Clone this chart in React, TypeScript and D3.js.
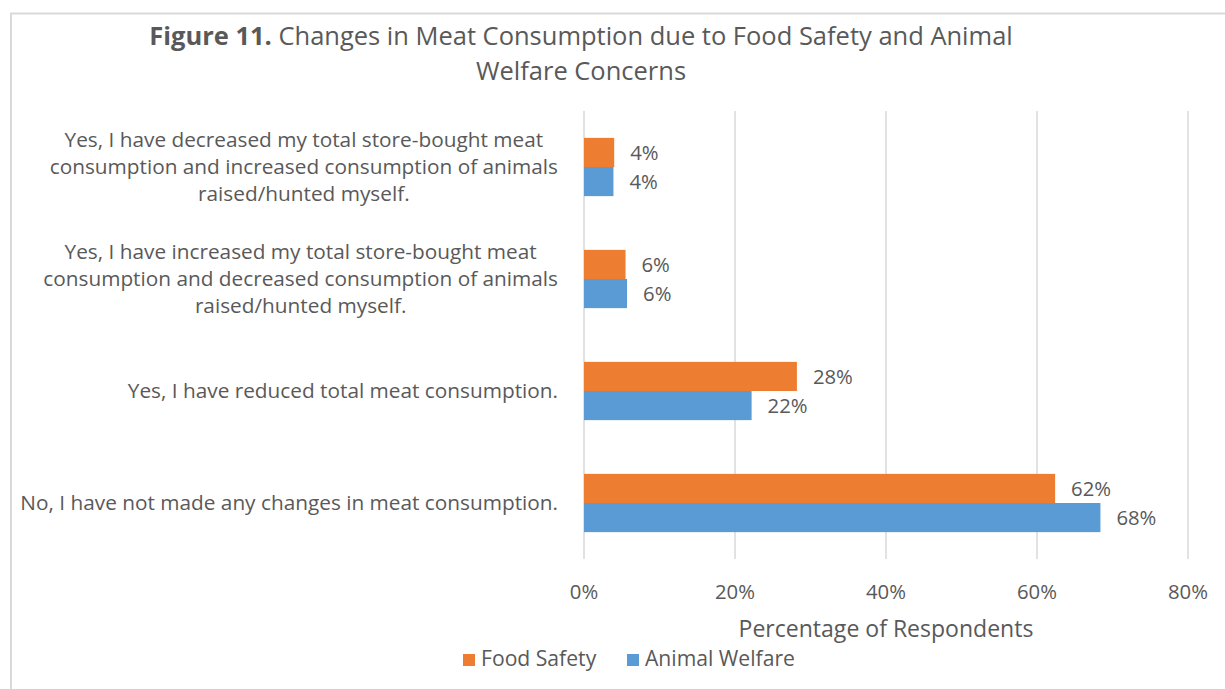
import React, { useEffect, useRef } from "react";
import * as d3 from "d3";

const categories: string[][] = [
  [
    "Yes, I have decreased my total store-bought meat",
    "consumption and increased consumption of animals",
    "raised/hunted myself.",
  ],
  [
    "Yes, I have increased my total store-bought meat",
    "consumption and decreased consumption of animals",
    "raised/hunted myself.",
  ],
  ["Yes, I have reduced total meat consumption."],
  ["No, I have not made any changes in meat consumption."],
];
const categoryKeys = ["decStore", "incStore", "reduced", "none"];
const foodSafety = [4.0, 5.5, 28.2, 62.4];
const animalWelfare = [3.9, 5.7, 22.2, 68.4];
const seriesNames = ["Food Safety", "Animal Welfare"];
const seriesColors = ["#ED7D31", "#5B9BD5"];
const xTicks = [0, 20, 40, 60, 80];

const W = 1225;
const H = 689;
const FONT = "'Open Sans', 'Noto Sans', sans-serif";
const TEXT = "#595959";

function fit(sel: any, target: number, base = 20) {
  sel.attr("font-size", base);
  const w = (sel.node() as SVGGraphicsElement).getBBox().width;
  const size = (base * target) / w;
  sel.attr("font-size", size);
  return size;
}

export default function App() {
  const ref = useRef<SVGSVGElement>(null);

  useEffect(() => {
    const svg = d3.select(ref.current!);
    svg.selectAll("*").remove();

    const left = 584;
    const right = 1188;
    const top = 111;
    const bottom = 559;

    const x = d3.scaleLinear().domain([0, 80]).range([left, right]);
    const y = d3
      .scaleBand<string>()
      .domain(categoryKeys)
      .range([top, bottom])
      .paddingInner(0.48)
      .paddingOuter(0.24);
    const y1 = d3
      .scaleBand<string>()
      .domain(seriesNames)
      .range([0, y.bandwidth()]);

    // chart border (partially visible)
    svg
      .append("path")
      .attr("d", `M11,${H} L11,13.5 L${W},13.5`)
      .attr("fill", "none")
      .attr("stroke", "#d9d9d9")
      .attr("stroke-width", 2);

    // Title
    const title = svg
      .append("text")
      .attr("x", 581)
      .attr("y", 45)
      .attr("text-anchor", "middle")
      .attr("fill", TEXT)
      .attr("font-family", FONT);
    title.append("tspan").attr("font-weight", "bold").text("Figure 11.");
    title
      .append("tspan")
      .text(" Changes in Meat Consumption due to Food Safety and Animal");
    const tSize = fit(title, 864, 24);
    svg
      .append("text")
      .attr("x", 581)
      .attr("y", 80)
      .attr("text-anchor", "middle")
      .attr("fill", TEXT)
      .attr("font-family", FONT)
      .attr("font-size", tSize)
      .text("Welfare Concerns");

    // gridlines
    svg
      .append("g")
      .selectAll("line")
      .data(xTicks)
      .join("line")
      .attr("x1", (d) => x(d))
      .attr("x2", (d) => x(d))
      .attr("y1", top)
      .attr("y2", bottom)
      .attr("stroke", "#d9d9d9")
      .attr("stroke-width", 1.5);

    // tick labels
    const probe = svg
      .append("text")
      .attr("font-family", FONT)
      .text("22%");
    const labSize = fit(probe, 40, 20);
    probe.remove();

    svg
      .append("g")
      .selectAll("text")
      .data(xTicks)
      .join("text")
      .attr("x", (d) => x(d))
      .attr("y", 592)
      .attr("dy", "0.35em")
      .attr("text-anchor", "middle")
      .attr("fill", TEXT)
      .attr("font-family", FONT)
      .attr("font-size", labSize)
      .text((d) => `${d}%`);

    // axis title
    const at = svg
      .append("text")
      .attr("x", (left + right) / 2)
      .attr("y", 629)
      .attr("dy", "0.35em")
      .attr("text-anchor", "middle")
      .attr("fill", TEXT)
      .attr("font-family", FONT)
      .text("Percentage of Respondents");
    fit(at, 295, 22);

    // category labels
    const probe2 = svg
      .append("text")
      .attr("font-family", FONT)
      .text(categories[3][0]);
    const catSize = fit(probe2, 538, 20);
    probe2.remove();
    const labelRight = 558;
    const lineH = 27;
    categories.forEach((lines, i) => {
      const g = svg
        .append("text")
        .attr("text-anchor", "middle")
        .attr("fill", TEXT)
        .attr("font-family", FONT)
        .attr("font-size", catSize);
      const cy = y(categoryKeys[i])! + y.bandwidth() / 2;
      lines.forEach((ln, j) => {
        g.append("tspan")
          .attr("x", 0)
          .attr("y", cy + (j - (lines.length - 1) / 2) * lineH)
          .attr("dy", "0.35em")
          .text(ln);
      });
      const w = (g.node() as SVGGraphicsElement).getBBox().width;
      g.selectAll("tspan").attr("x", labelRight - w / 2);
    });

    // bars
    const series = [foodSafety, animalWelfare];
    series.forEach((vals, si) => {
      const name = seriesNames[si];
      const gg = svg.append("g");
      gg.selectAll("rect")
        .data(vals)
        .join("rect")
        .attr("x", x(0))
        .attr("y", (_, i) => y(categoryKeys[i])! + y1(name)!)
        .attr("width", (d) => x(d) - x(0))
        .attr("height", y1.bandwidth())
        .attr("fill", seriesColors[si]);
      gg.selectAll("text")
        .data(vals)
        .join("text")
        .attr("x", (d) => x(d) + 16)
        .attr(
          "y",
          (_, i) => y(categoryKeys[i])! + y1(name)! + y1.bandwidth() / 2
        )
        .attr("dy", "0.35em")
        .attr("fill", TEXT)
        .attr("font-family", FONT)
        .attr("font-size", labSize)
        .text((d) => `${Math.round(d)}%`);
    });

    // legend
    const legendItems = [
      { name: seriesNames[0], color: seriesColors[0], x: 463 },
      { name: seriesNames[1], color: seriesColors[1], x: 627 },
    ];
    const probe3 = svg
      .append("text")
      .attr("font-family", FONT)
      .text("Animal Welfare");
    const legSize = fit(probe3, 150, 20);
    probe3.remove();
    legendItems.forEach((it) => {
      svg
        .append("rect")
        .attr("x", it.x)
        .attr("y", 654)
        .attr("width", 12)
        .attr("height", 12)
        .attr("fill", it.color);
      svg
        .append("text")
        .attr("x", it.x + 18)
        .attr("y", 659)
        .attr("dy", "0.35em")
        .attr("fill", TEXT)
        .attr("font-family", FONT)
        .attr("font-size", legSize)
        .text(it.name);
    });
  }, []);

  return (
    <svg
      ref={ref}
      width={W}
      height={H}
      style={{ position: "absolute", left: 0, top: 0, background: "#fff" }}
    />
  );
}
